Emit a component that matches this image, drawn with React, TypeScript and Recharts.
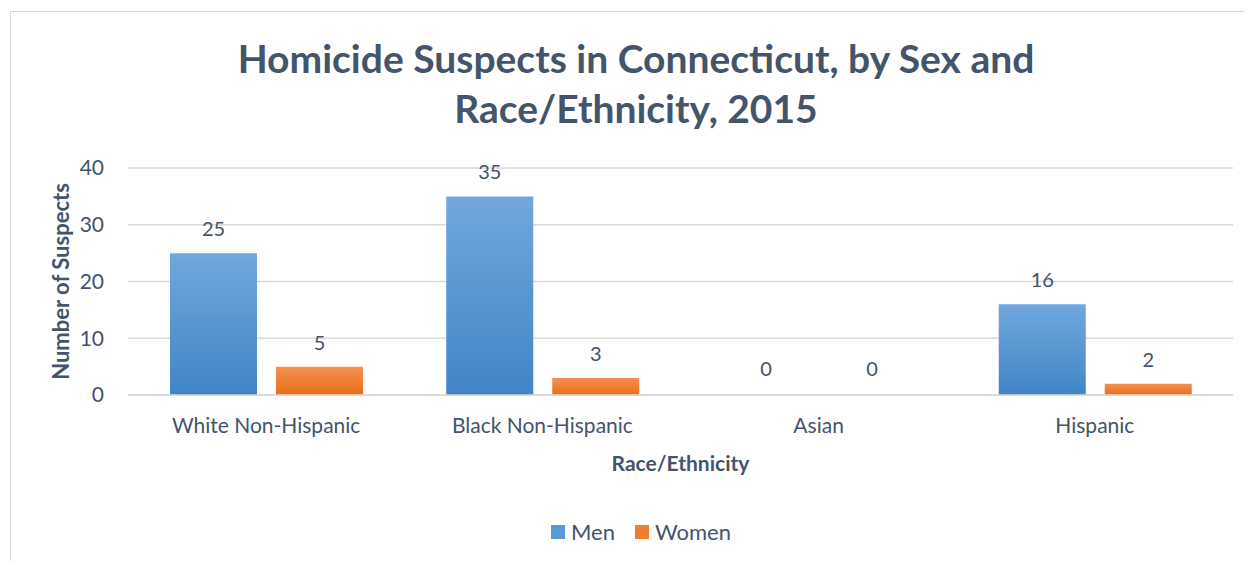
import React from 'react';
import { BarChart, Bar, XAxis, YAxis, CartesianGrid, LabelList, Label, Rectangle } from 'recharts';

const categories = ['White Non-Hispanic', 'Black Non-Hispanic', 'Asian', 'Hispanic'];
const menValues = [25, 35, 0, 16];
const womenValues = [5, 3, 0, 2];
const yTicks = [0, 10, 20, 30, 40];

const series = [
  { key: 'Men', gradId: 'menGrad', top: '#71A8DD', bottom: '#4185C6', swatch: '#5B9BD5' },
  { key: 'Women', gradId: 'womenGrad', top: '#F39052', bottom: '#E96F17', swatch: '#ED7D31' },
];

const data = categories.map((name, i) => ({ name, Men: menValues[i], Women: womenValues[i] }));

const FONT = 'Lato, "Open Sans", sans-serif';
const TEXT = '#44546A';
const GRID = '#D9D9D9';

const YTitle = (props: any) => {
  const vb = props.viewBox;
  const cx = vb.x - 8;
  const cy = vb.y + vb.height / 2;
  return (
    <text
      x={cx}
      y={cy}
      transform={`rotate(-90, ${cx}, ${cy})`}
      textAnchor="middle"
      dominantBaseline="central"
      fill={TEXT}
      fontWeight="bold"
      fontSize={22}
      fontFamily={FONT}
    >
      Number of Suspects
    </text>
  );
};

// value label drawn above every bar, zeros included
const ValueLabel = (props: any) => {
  const { x, y, width, value } = props;
  return (
    <text x={x + width / 2} y={y - 17} textAnchor="middle" fill={TEXT} fontSize={20} fontFamily={FONT}>
      {String(value)}
    </text>
  );
};

// zero bars keep a tiny rect (so they get a label) but are not painted
const makeShape = (key: string) => (props: any) => {
  if (props.payload && props.payload[key] === 0) return <g />;
  return <Rectangle {...props} />;
};

export default function App() {
  return (
    <div style={{ position: 'relative', width: 1252, height: 569, margin: -8, overflow: 'hidden', background: '#fff', fontFamily: FONT }}>
      {/* caption of the figure, mostly cut off by the page top */}
      <div style={{ position: 'absolute', left: 8, top: 0, height: 9, width: 1240, overflow: 'hidden' }}>
        <div style={{ position: 'absolute', top: -20, left: 0, fontSize: 22, fontStyle: 'italic', color: '#1F4E79', whiteSpace: 'nowrap', lineHeight: '26px' }}>
          Figure 9: Homicide Suspects in Connecticut, by Sex and Race/Ethnicity, 2015
        </div>
      </div>
      {/* chart frame */}
      <div style={{ position: 'absolute', left: 10, top: 11, width: 1260, height: 600, border: `1.5px solid ${GRID}`, boxSizing: 'border-box' }} />
      <div
        style={{
          position: 'absolute',
          left: 10,
          width: 1252,
          top: 33,
          textAlign: 'center',
          color: TEXT,
          fontWeight: 'bold',
          fontSize: 39,
          lineHeight: '50px',
        }}
      >
        Homicide Suspects in Connecticut, by Sex and
        <br />
        Race/Ethnicity, 2015
      </div>
      <div style={{ position: 'absolute', left: 0, top: 0 }}>
        <BarChart
          width={1252}
          height={569}
          data={data}
          margin={{ top: 168, right: 19, bottom: 144, left: 68 }}
          barCategoryGap={42}
          barGap={19}
          style={{ fontFamily: FONT }}
        >
          <defs>
            {series.map((s) => (
              <linearGradient key={s.gradId} id={s.gradId} x1="0" y1="0" x2="0" y2="1">
                <stop offset="0%" stopColor={s.top} />
                <stop offset="100%" stopColor={s.bottom} />
              </linearGradient>
            ))}
          </defs>
          <CartesianGrid vertical={false} stroke={GRID} strokeWidth={1.5} />
          <XAxis
            dataKey="name"
            axisLine={{ stroke: GRID, strokeWidth: 1.5 }}
            tickLine={false}
            tickMargin={17}
            height={30}
            tick={{ fill: TEXT, fontSize: 21 }}
          >
            <Label value="Race/Ethnicity" position="bottom" offset={31} fill={TEXT} fontWeight="bold" fontSize={21} />
          </XAxis>
          <YAxis
            domain={[0, 40]}
            ticks={yTicks}
            width={60}
            axisLine={false}
            tickLine={false}
            tickMargin={18}
            tick={{ fill: TEXT, fontSize: 21 }}
          >
            <Label content={YTitle} />
          </YAxis>
          {series.map((s) => (
            <Bar
              key={s.key}
              dataKey={s.key}
              fill={`url(#${s.gradId})`}
              minPointSize={2}
              shape={makeShape(s.key)}
              isAnimationActive={false}
            >
              <LabelList dataKey={s.key} content={ValueLabel} />
            </Bar>
          ))}
        </BarChart>
      </div>
      {/* legend */}
      <div style={{ position: 'absolute', top: 518, left: 0, width: 1282, display: 'flex', justifyContent: 'center', gap: 20, color: TEXT, fontSize: 22 }}>
        {series.map((s) => (
          <div key={s.key} style={{ display: 'flex', alignItems: 'center' }}>
            <span style={{ display: 'inline-block', width: 14, height: 14, background: s.swatch, marginRight: 6 }} />
            <span>{s.key}</span>
          </div>
        ))}
      </div>
    </div>
  );
}
